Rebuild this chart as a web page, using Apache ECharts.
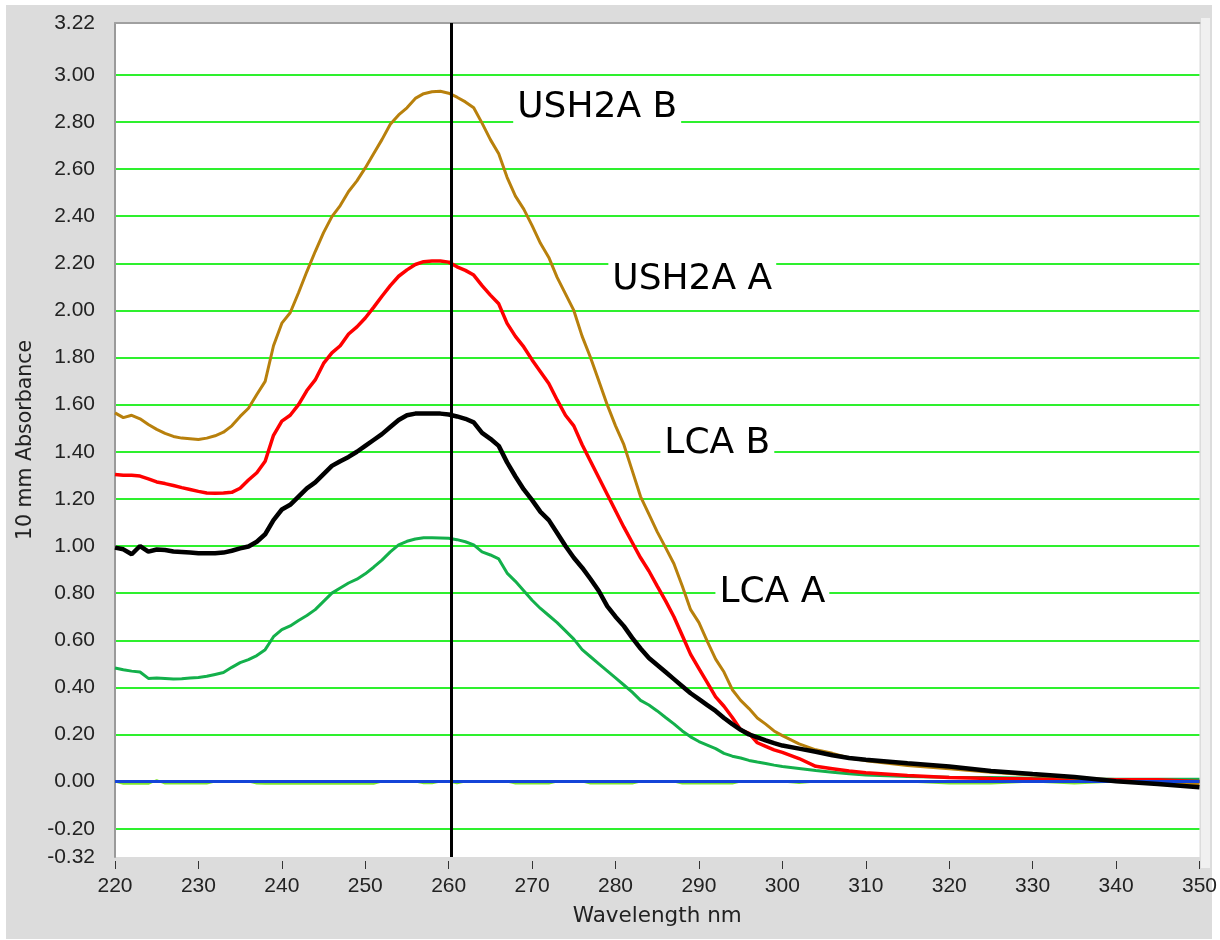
<!DOCTYPE html>
<html>
<head>
<meta charset="utf-8">
<script src="https://cdn.jsdelivr.net/npm/echarts@6/dist/echarts.min.js"></script>
<style>
  html, body { margin: 0; padding: 0; background: #ffffff; }
  #chart { width: 1220px; height: 940px; }
</style>
</head>
<body>
<div id="chart"></div>
<script>
// Wavelength grid (nm) shared by all spectra
const wavelengths = [
  220, 221, 222, 223, 224, 225, 226, 227, 228, 229,
  230, 231, 232, 233, 234, 235, 236, 237, 238, 239,
  240, 241, 242, 243, 244, 245, 246, 247, 248, 249,
  250, 251, 252, 253, 254, 255, 256, 257, 258, 259,
  260, 261, 262, 263, 264, 265, 266, 267, 268, 269,
  270, 271, 272, 273, 274, 275, 276, 277, 278, 279,
  280, 281, 282, 283, 284, 285, 286, 287, 288, 289,
  290, 291, 292, 293, 294, 295, 296, 297, 298, 299,
  300, 302, 304, 306, 308, 310,
  315, 320, 325, 330, 335, 340, 345, 350
];

// Absorbance (10 mm path) per sample
const ush2aB = [
  1.565, 1.545, 1.555, 1.540, 1.516, 1.495, 1.478, 1.465, 1.458, 1.455,
  1.452, 1.458, 1.468, 1.483, 1.510, 1.550, 1.585, 1.643, 1.699, 1.850,
  1.946, 1.990, 2.075, 2.165, 2.250, 2.330, 2.398, 2.445, 2.505, 2.550,
  2.605, 2.665, 2.725, 2.790, 2.830, 2.860, 2.900, 2.920, 2.928, 2.930,
  2.922, 2.905, 2.885, 2.860, 2.795, 2.725, 2.665, 2.565, 2.485, 2.430,
  2.360, 2.285, 2.225, 2.140, 2.070, 2.000, 1.890, 1.800, 1.700, 1.600,
  1.510, 1.430, 1.320, 1.210, 1.135, 1.060, 0.993, 0.925, 0.830, 0.730,
  0.675, 0.595, 0.520, 0.465, 0.390, 0.345, 0.310, 0.270, 0.244, 0.215,
  0.195, 0.160, 0.135, 0.120, 0.100, 0.089,
  0.068, 0.055, 0.040, 0.028, 0.015, 0.000, -0.005, -0.010
];

const ush2aA = [
  1.304, 1.300, 1.300, 1.297, 1.285, 1.272, 1.265, 1.257, 1.248, 1.240,
  1.232, 1.225, 1.224, 1.225, 1.228, 1.245, 1.280, 1.311, 1.360, 1.470,
  1.530, 1.555, 1.600, 1.660, 1.705, 1.775, 1.820, 1.850, 1.900, 1.930,
  1.968, 2.013, 2.060, 2.105, 2.145, 2.172, 2.195, 2.207, 2.210, 2.210,
  2.205, 2.185, 2.170, 2.150, 2.105, 2.065, 2.028, 1.945, 1.890, 1.845,
  1.790, 1.740, 1.690, 1.620, 1.555, 1.510, 1.430, 1.360, 1.290, 1.220,
  1.150, 1.080, 1.015, 0.950, 0.894, 0.830, 0.767, 0.700, 0.620, 0.540,
  0.480, 0.420, 0.360, 0.320, 0.272, 0.220, 0.205, 0.165, 0.150, 0.135,
  0.124, 0.098, 0.065, 0.055, 0.045, 0.038,
  0.026, 0.017, 0.013, 0.011, 0.010, 0.008, 0.008, 0.000
];

const lcaB = [
  0.993, 0.986, 0.965, 1.000, 0.976, 0.985, 0.983, 0.977, 0.975, 0.972,
  0.969, 0.969, 0.969, 0.972, 0.980, 0.990, 0.998, 1.018, 1.050, 1.110,
  1.155, 1.175, 1.210, 1.245, 1.270, 1.305, 1.340, 1.360, 1.378, 1.400,
  1.425, 1.450, 1.475, 1.505, 1.535, 1.555, 1.562, 1.563, 1.563, 1.562,
  1.558, 1.550, 1.540, 1.525, 1.480, 1.455, 1.425, 1.355, 1.295, 1.240,
  1.195, 1.145, 1.110, 1.055, 1.000, 0.950, 0.908, 0.860, 0.809, 0.745,
  0.700, 0.660, 0.610, 0.565, 0.525, 0.495, 0.465, 0.435, 0.405, 0.375,
  0.350, 0.325, 0.300, 0.270, 0.244, 0.220, 0.200, 0.188, 0.175, 0.163,
  0.153, 0.140, 0.127, 0.112, 0.100, 0.093,
  0.078, 0.064, 0.045, 0.032, 0.020, 0.002, -0.010, -0.024
];

const lcaA = [
  0.482, 0.475, 0.469, 0.465, 0.438, 0.440, 0.438, 0.436, 0.437, 0.440,
  0.442, 0.447, 0.455, 0.463, 0.485, 0.505, 0.518, 0.535, 0.560, 0.615,
  0.645, 0.661, 0.684, 0.705, 0.730, 0.765, 0.800, 0.822, 0.843, 0.859,
  0.882, 0.910, 0.940, 0.975, 1.005, 1.020, 1.030, 1.035, 1.035, 1.034,
  1.033, 1.027, 1.018, 1.005, 0.975, 0.962, 0.945, 0.885, 0.850, 0.810,
  0.770, 0.735, 0.705, 0.675, 0.640, 0.605, 0.560, 0.530, 0.500, 0.470,
  0.440, 0.410, 0.380, 0.345, 0.325, 0.300, 0.272, 0.245, 0.215, 0.190,
  0.170, 0.155, 0.140, 0.120, 0.108, 0.100, 0.090, 0.083, 0.077, 0.070,
  0.064, 0.056, 0.047, 0.040, 0.033, 0.028,
  0.022, 0.019, 0.017, 0.014, 0.012, 0.010, 0.010, 0.010
];

// Blank trace, sitting on the zero line
const blank = [
  0.000, -0.009, -0.009, -0.009, -0.009, 0.006, -0.008, -0.008, -0.008, -0.008,
  -0.008, -0.008, 0.000, 0.000, 0.000, 0.000, 0.000, -0.008, -0.009, -0.009,
  -0.009, -0.009, -0.009, -0.009, -0.009, -0.009, -0.009, -0.009, -0.009, -0.009,
  -0.009, -0.009, 0.000, 0.000, 0.000, 0.000, 0.000, -0.007, -0.007, 0.000,
  0.000, -0.007, 0.000, 0.000, 0.000, 0.000, 0.000, 0.000, -0.008, -0.008,
  -0.008, -0.008, -0.008, 0.000, 0.000, 0.000, 0.000, -0.008, -0.008, -0.008,
  -0.008, -0.008, -0.008, 0.000, 0.000, 0.000, 0.000, 0.000, -0.008, -0.008,
  -0.008, -0.008, -0.008, -0.008, -0.008, 0.000, 0.000, 0.000, 0.000, 0.000,
  0.000, -0.006, 0.000, 0.000, 0.000, 0.000,
  0.000, -0.008, -0.008, 0.000, -0.008, 0.000, 0.000, 0.000
];

const yTickValues = [
  -0.32, -0.2, 0, 0.2, 0.4, 0.6, 0.8, 1.0, 1.2, 1.4, 1.6,
  1.8, 2.0, 2.2, 2.4, 2.6, 2.8, 3.0, 3.22
];

// Cursor wavelength (nm)
const markerWavelength = 260.3;

const axisFont = 'Liberation Sans, Arial, sans-serif';
const nameFont = 'DejaVu Sans, sans-serif';

function pairs(values) {
  return wavelengths.map((w, i) => [w, values[i]]);
}

function spectrum(name, values, color, width, z, labelAt) {
  return {
    name: name,
    type: 'line',
    data: pairs(values),
    showSymbol: false,
    symbol: 'none',
    z: z,
    lineStyle: { color: color, width: width },
    itemStyle: { color: color },
    emphasis: { disabled: true },
    markPoint: {
      silent: true,
      symbol: 'rect',
      symbolSize: 1,
      itemStyle: { color: 'rgba(0,0,0,0)' },
      label: {
        show: true,
        position: 'inside',
        formatter: '{b}',
        fontFamily: 'DejaVu Sans',
        fontSize: 36,
        color: '#000000',
        backgroundColor: '#ffffff',
        padding: [2, 4, 2, 4]
      },
      data: [{ name: name, coord: labelAt }]
    }
  };
}

const chart = echarts.init(document.getElementById('chart'), null, { renderer: 'canvas' });

chart.setOption({
  animation: false,
  backgroundColor: '#ffffff',
  graphic: [
    { type: 'rect', z: -10, silent: true,
      shape: { x: 6, y: 5, width: 1206, height: 934 },
      style: { fill: '#dcdcdc' } },
    { type: 'rect', z: -9, silent: true,
      shape: { x: 1201, y: 18, width: 9, height: 850 },
      style: { fill: '#f0f0f0' } }
  ],
  grid: {
    left: 115, right: 20, top: 23, bottom: 83,
    show: true, backgroundColor: '#ffffff', borderWidth: 0
  },
  xAxis: [
    {
      type: 'value', min: 220, max: 350, interval: 10, position: 'bottom', offset: 4,
      axisLine: { show: false, onZero: false },
      axisTick: { show: true, length: 8, lineStyle: { color: '#333333', width: 1 } },
      axisLabel: { fontFamily: axisFont, fontSize: 21, color: '#222222', margin: 15 },
      splitLine: { show: false },
      name: 'Wavelength nm', nameLocation: 'middle', nameGap: 44,
      nameTextStyle: { fontFamily: nameFont, fontSize: 21.5, color: '#222222' }
    },
    {
      type: 'value', min: 220, max: 350, position: 'top',
      axisLine: { show: true, onZero: false, lineStyle: { color: '#a0a0a0', width: 2 } },
      axisTick: { show: false }, axisLabel: { show: false }, splitLine: { show: false }
    }
  ],
  yAxis: {
    type: 'value', min: -0.32, max: 3.22,
    axisLine: { show: true, onZero: false, lineStyle: { color: '#9a9a9a', width: 2 } },
    axisTick: { show: false, customValues: yTickValues },
    axisLabel: {
      customValues: yTickValues,
      formatter: v => v.toFixed(2),
      fontFamily: axisFont, fontSize: 21, color: '#222222', margin: 20
    },
    splitLine: { show: true, showMinLine: false, lineStyle: { color: '#2ef02e', width: 2 } },
    name: '10 mm Absorbance', nameLocation: 'middle', nameGap: 79,
    nameTextStyle: { fontFamily: nameFont, fontSize: 20.5, color: '#222222' }
  },
  series: [
    {
      name: 'Blank', type: 'line', data: pairs(blank), showSymbol: false, symbol: 'none', z: 1,
      lineStyle: { color: '#7ee62a', width: 2 }, emphasis: { disabled: true },
      markLine: {
        silent: true, symbol: 'none', label: { show: false },
        data: [
          { yAxis: 0, lineStyle: { color: '#1444d8', width: 3, type: 'solid' } },
          { xAxis: markerWavelength, lineStyle: { color: '#000000', width: 3, type: 'solid' } }
        ]
      }
    },
    spectrum('LCA A', lcaA, '#13b04b', 3, 2, [298.8, 0.80]),
    spectrum('USH2A A', ush2aA, '#ff0000', 3.5, 3, [289.2, 2.13]),
    spectrum('USH2A B', ush2aB, '#b8800c', 3, 4, [277.8, 2.86]),
    spectrum('LCA B', lcaB, '#000000', 4.5, 5, [292.2, 1.435])
  ]
});
</script>
</body>
</html>
